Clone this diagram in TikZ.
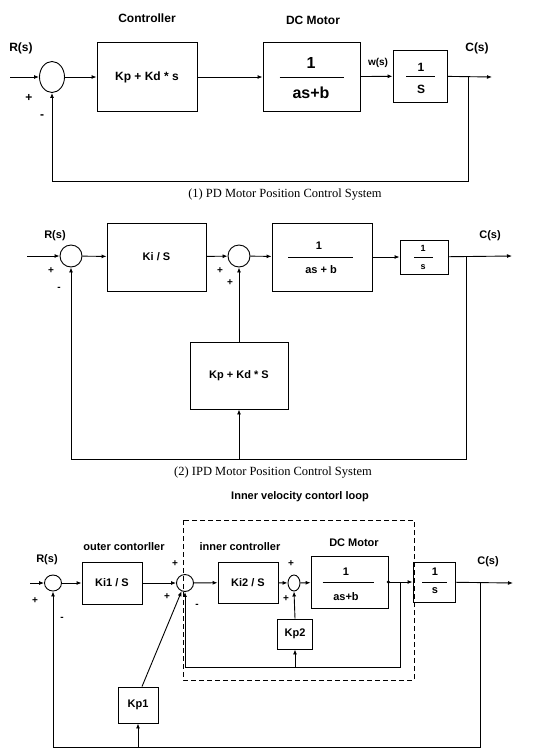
\documentclass[tikz,border=0pt]{standalone}
\usepackage{fontspec}
\setmainfont{Liberation Serif}
\setsansfont{Liberation Sans}
\usetikzlibrary{arrows.meta, shapes.geometric}

\begin{document}
\begin{tikzpicture}[x=1pt, y=-1pt,
    every node/.style={font=\sffamily\bfseries\fontsize{11}{13}\selectfont},
    blk/.style={draw, line width=0.9pt, inner sep=0pt},
    sm/.style={draw, ellipse, line width=0.9pt, inner sep=0pt},
    a/.style={-{Latex[length=5pt, width=4pt]}, line width=0.9pt},
    ln/.style={line width=0.9pt},
    sg/.style={font=\sffamily\bfseries\fontsize{10}{12}\selectfont},
    t9/.style={font=\sffamily\bfseries\fontsize{9}{11}\selectfont},
    t12/.style={font=\sffamily\bfseries\fontsize{12}{14}\selectfont},
    t16/.style={font=\sffamily\bfseries\fontsize{16}{18}\selectfont},
    captxt/.style={font=\rmfamily\fontsize{12.5}{15}\selectfont},
    dbox/.style={dashed, dash pattern=on 5pt off 3pt, line width=1pt}
]
\useasboundingbox (0,0) rectangle (554,753);

% (1) PD
\node[t12] (r1) at (21,48) {R(s)};
\node[t12] (c1l) at (147,18) {Controller};
\node[t12] (m1l) at (313,20) {DC Motor};
\node[t12] (o1l) at (477,48) {C(s)};
\coordinate (i1) at (10,77);
\node[sm, minimum width=25pt, minimum height=31pt] (s1) at (52,77) {};
\node[blk, t12, minimum width=100pt, minimum height=69pt] (c1) at (147,77) {Kp + Kd * s};
\node[blk, minimum width=97pt, minimum height=69pt] (m1) at (311.5,77) {};
\node[t16] (m1n) at (311,63) {1};
\node[t16] (m1d) at (311,93) {as+b};
\draw[ln] ([xshift=-32pt]m1.center) -- ([xshift=32pt]m1.center);
\node[blk, minimum width=54pt, minimum height=52pt] (g1) at (420,76) {};
\node[t12] (g1n) at (421,67) {1};
\node[t12] (g1d) at (421,89) {S};
\draw[ln] ([xshift=-14pt]g1.center) -- ([xshift=15pt]g1.center);
\node[font=\sffamily\bfseries\fontsize{10}{12}\selectfont] (w1) at (378,63) {w(s)};
\coordinate (o1) at (492,77);
\coordinate (p1) at (468,77);
\coordinate (f1) at (468,181);
\draw[a] (i1) -- (s1);
\draw[a] (s1) -- (c1);
\draw[a] (c1) -- (m1);
\draw[a] (m1) -- (g1);
\draw[a] (g1) -- (o1);
\draw[a] (p1) -- (f1) -| (s1.south);
\node[t12] (s1p) at (29,98) {+};
\node[t12] (s1m) at (42,117) {-};
\node[captxt] (cap1) at (285,195) {(1) PD Motor Position Control System};

% (2) IPD
\node (r2) at (55,236) {R(s)};
\node (o2l) at (490,236) {C(s)};
\coordinate (i2) at (27,256);
\node[sm, minimum size=22pt] (s2a) at (71,256) {};
\node[blk, minimum width=99pt, minimum height=68pt] (ki) at (156.5,257) {Ki / S};
\node[sm, minimum size=22pt] (s2b) at (239,256) {};
\node[blk, minimum width=100pt, minimum height=68pt] (m2) at (322,257) {};
\node (m2n) at (319,246) {1};
\node (m2d) at (321,270) {as + b};
\draw[ln] ([xshift=-34pt]m2.center) -- ([xshift=31pt]m2.center);
\node[blk, minimum width=48pt, minimum height=34pt] (g2) at (424,257) {};
\node[t9] (g2n) at (423,248) {1};
\node[t9] (g2d) at (423,267) {s};
\draw[ln] ([xshift=-10pt]g2.center) -- ([xshift=9pt]g2.center);
\node[blk, minimum width=98pt, minimum height=67pt] (pd) at (239,375.5) {Kp + Kd * S};
\coordinate (o2) at (512,256);
\coordinate (p2) at (466,256);
\coordinate (f2) at (466,459);
\coordinate (b2) at (239,459);
\draw[a] (i2) -- (s2a);
\draw[a] (s2a) -- (ki);
\draw[a] (ki) -- (s2b);
\draw[a] (s2b) -- (m2);
\draw[a] (m2) -- (g2);
\draw[a] (g2) -- (o2);
\draw[a] (p2) -- (f2) -| (s2a.south);
\draw[a] (b2) -- (pd.south);
\draw[a] (pd.north) -- (s2b.south);
\node[sg] (s2ap) at (51,271) {+};
\node[sg] (s2am) at (59,289) {-};
\node[sg] (s2bp) at (220,271) {+};
\node[sg] (s2bq) at (230,283) {+};
\node[captxt] (cap2) at (273,473) {(2) IPD Motor Position Control System};

% (3) cascade
\node (loop) at (300,497) {Inner velocity contorl loop};
\draw[dbox] (183,520) rectangle (414,680);
\node (ocl) at (124,547) {outer contorller};
\node (icl) at (240,547) {inner controller};
\node (m3l) at (354,543) {DC Motor};
\node (r3) at (47,560) {R(s)};
\node (o3l) at (488,562) {C(s)};
\coordinate (i3) at (30,583);
\node[sm, minimum width=17pt, minimum height=16pt] (s3a) at (53,583) {};
\node[blk, minimum width=60pt, minimum height=42pt] (ki1) at (112,583) {Ki1 / S};
\node[sm, minimum size=17pt] (s3b) at (185,583) {};
\node[blk, minimum width=60pt, minimum height=41pt] (ki2) at (248,582.5) {Ki2 / S};
\node[sm, minimum width=12pt, minimum height=16pt] (s3c) at (294,583) {};
\node[blk, minimum width=77pt, minimum height=52pt] (m3) at (349.5,582) {};
\node (m3n) at (346,572) {1};
\node (m3d) at (346,597) {as+b};
\draw[ln] ([xshift=-27pt]m3.center) -- ([xshift=24pt]m3.center);
\fill (m3.east) circle (1.8pt);
\node[blk, minimum width=42pt, minimum height=40pt] (g3) at (434,582) {};
\node (g3n) at (435,572) {1};
\node (g3d) at (435,591) {s};
\draw[ln] ([xshift=-12pt]g3.center) -- ([xshift=13pt]g3.center);
\node[blk, minimum width=35pt, minimum height=30pt] (kp2) at (295,634) {Kp2};
\node[blk, minimum width=40pt, minimum height=36pt] (kp1) at (138,705) {Kp1};
\coordinate (o3) at (513,583);
\coordinate (p3i) at (400,583);
\coordinate (f3i) at (400,667);
\coordinate (b3i) at (295,667);
\coordinate (p3o) at (480,583);
\coordinate (f3o) at (480,747);
\coordinate (b3o) at (138,747);
\draw[a] (i3) -- (s3a);
\draw[a] (s3a) -- (ki1);
\draw[a] (ki1) -- (s3b);
\draw[a] (s3b) -- (ki2);
\draw[a] (ki2) -- (s3c);
\draw[a] (s3c) -- (m3);
\draw[a] (m3) -- (g3);
\draw[a] (g3) -- (o3);
\draw[a] (p3i) -- (f3i) -| (s3b.south);
\draw[a] (b3i) -- (kp2.south);
\draw[a] (kp2.north) -- (s3c.south);
\draw[a] (p3o) -- (f3o) -| (s3a.south);
\draw[a] (b3o) -- (kp1.south);
\draw[a] ([xshift=4pt]kp1.north) -- (s3b);
\node[sg] (s3ap) at (35,601) {+};
\node[sg] (s3am) at (62,619) {-};
\node[sg] (s3bp) at (175,564) {+};
\node[sg] (s3bq) at (167,597) {+};
\node[sg] (s3bm) at (197,606) {-};
\node[sg] (s3cp) at (291,564) {+};
\node[sg] (s3cq) at (286,599) {+};
\end{tikzpicture}
\end{document}
